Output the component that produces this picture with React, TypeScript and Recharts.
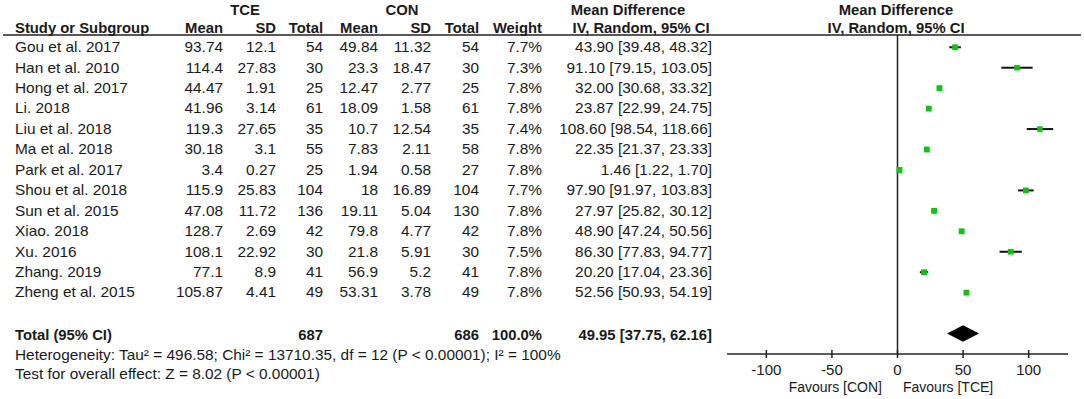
import React from 'react';
import {
  ErrorBar,
  ReferenceArea,
  ReferenceLine,
  Scatter,
  ScatterChart,
  XAxis,
  YAxis,
} from 'recharts';

const studies = [
  'Gou et al. 2017',
  'Han et al. 2010',
  'Hong et al. 2017',
  'Li. 2018',
  'Liu et al. 2018',
  'Ma et al. 2018',
  'Park et al. 2017',
  'Shou et al. 2018',
  'Sun et al. 2015',
  'Xiao. 2018',
  'Xu. 2016',
  'Zhang. 2019',
  'Zheng et al. 2015',
];
const tceMean = [93.74, 114.4, 44.47, 41.96, 119.3, 30.18, 3.4, 115.9, 47.08, 128.7, 108.1, 77.1, 105.87];
const tceSd = [12.1, 27.83, 1.91, 3.14, 27.65, 3.1, 0.27, 25.83, 11.72, 2.69, 22.92, 8.9, 4.41];
const tceN = [54, 30, 25, 61, 35, 55, 25, 104, 136, 42, 30, 41, 49];
const conMean = [49.84, 23.3, 12.47, 18.09, 10.7, 7.83, 1.94, 18, 19.11, 79.8, 21.8, 56.9, 53.31];
const conSd = [11.32, 18.47, 2.77, 1.58, 12.54, 2.11, 0.58, 16.89, 5.04, 4.77, 5.91, 5.2, 3.78];
const conN = [54, 30, 25, 61, 35, 58, 27, 104, 130, 42, 30, 41, 49];
const weights = [7.7, 7.3, 7.8, 7.8, 7.4, 7.8, 7.8, 7.7, 7.8, 7.8, 7.5, 7.8, 7.8];
const md = [43.9, 91.1, 32.0, 23.87, 108.6, 22.35, 1.46, 97.9, 27.97, 48.9, 86.3, 20.2, 52.56];
const ciLow = [39.48, 79.15, 30.68, 22.99, 98.54, 21.37, 1.22, 91.97, 25.82, 47.24, 77.83, 17.04, 50.93];
const ciHigh = [48.32, 103.05, 33.32, 24.75, 118.66, 23.33, 1.7, 103.83, 30.12, 50.56, 94.77, 23.36, 54.19];

const totalTceN = 687;
const totalConN = 686;
const totalWeight = 100.0;
const totalMd = 49.95;
const totalLow = 37.75;
const totalHigh = 62.16;

const axisTicks = [-100, -50, 0, 50, 100];

const points = studies.map((name, i) => ({
  name,
  x: md[i],
  y: i,
  w: weights[i],
  err: [md[i] - ciLow[i], ciHigh[i] - md[i]],
}));

const TOTAL_ROW = 14;
const FONT = '"Liberation Sans", Arial, sans-serif';
const INK = '#1a1a1a';
const ROW0 = 47.3;
const ROW_H = 20.45;

function T({
  x,
  y,
  anchor = 'start',
  bold = false,
  children,
}: {
  x: number;
  y: number;
  anchor?: 'start' | 'middle' | 'end';
  bold?: boolean;
  children: React.ReactNode;
}) {
  return (
    <text
      transform={`translate(${x},${y}) scale(${bold ? 1.06 : 1.1},1)`}
      textAnchor={anchor}
      dominantBaseline="central"
      fontSize={14}
      fontWeight={bold ? 'bold' : 'normal'}
      fontFamily={FONT}
      fill={INK}
    >
      {children}
    </text>
  );
}

function AxisTick(props: any) {
  const { x, y, payload } = props;
  return (
    <g>
      <line x1={x} x2={x} y1={y - 4} y2={y + 4} stroke="#222" strokeWidth={1.5} />
      <text
        x={x}
        y={y + 15}
        textAnchor="middle"
        dominantBaseline="central"
        fontSize={15}
        fontFamily={FONT}
        fill={INK}
      >
        {payload.value}
      </text>
    </g>
  );
}

function Square(props: any) {
  const { cx, cy, payload } = props;
  const s = payload.w * 0.75;
  return <rect x={cx - s / 2} y={cy - s / 2} width={s} height={s} fill="#0fc40f" />;
}

function Diamond(props: any) {
  const { x, y, width, height } = props;
  const mx = x + width / 2;
  const my = y + height / 2;
  return (
    <polygon
      points={`${x},${my} ${mx},${y} ${x + width},${my} ${mx},${y + height}`}
      fill="#000"
    />
  );
}

const cols = [
  { right: 223, head: 'Mean', vals: tceMean.map(String) },
  { right: 276, head: 'SD', vals: tceSd.map(String) },
  { right: 323, head: 'Total', vals: tceN.map(String) },
  { right: 378, head: 'Mean', vals: conMean.map(String) },
  { right: 431, head: 'SD', vals: conSd.map(String) },
  { right: 479, head: 'Total', vals: conN.map(String) },
  { right: 542, head: 'Weight', vals: weights.map((w) => `${w.toFixed(1)}%`) },
  {
    right: 712,
    head: '',
    vals: md.map((m, i) => `${m.toFixed(2)} [${ciLow[i].toFixed(2)}, ${ciHigh[i].toFixed(2)}]`),
  },
];

export default function App() {
  const totalY = ROW0 + TOTAL_ROW * ROW_H + 1.5;
  return (
    <div style={{ position: 'absolute', left: 0, top: 0, width: 1084, height: 399, background: '#fff' }}>
      <ScatterChart width={1084} height={399} margin={{ top: 35, right: 16, bottom: 15, left: 727 }}>
        <XAxis
          type="number"
          dataKey="x"
          domain={[-130, 130]}
          ticks={axisTicks}
          interval={0}
          allowDataOverflow
          height={30}
          tickLine={false}
          tickSize={0}
          tickMargin={0}
          axisLine={{ stroke: '#222', strokeWidth: 1.5 }}
          tick={<AxisTick />}
        />
        <YAxis type="number" dataKey="y" domain={[-0.6, 15]} reversed hide width={0} allowDataOverflow />
        <ReferenceLine x={0} stroke="#222" strokeWidth={1.5} />
        <Scatter data={points} shape={<Square />} isAnimationActive={false}>
          <ErrorBar dataKey="err" direction="x" width={0} stroke="#111" strokeWidth={2} isAnimationActive={false} />
        </Scatter>
        <ReferenceArea
          x1={totalLow}
          x2={totalHigh}
          y1={TOTAL_ROW - 0.4}
          y2={TOTAL_ROW + 0.4}
          shape={<Diamond />}
        />
      </ScatterChart>

      <svg width={1084} height={399} style={{ position: 'absolute', left: 0, top: 0, pointerEvents: 'none' }}>
        <line x1={3} x2={1081} y1={35} y2={35} stroke="#222" strokeWidth={1.5} />

        <T x={245} y={10} anchor="middle" bold>TCE</T>
        <T x={402} y={10} anchor="middle" bold>CON</T>
        <T x={628} y={10} anchor="middle" bold>Mean Difference</T>
        <T x={896} y={10} anchor="middle" bold>Mean Difference</T>
        <T x={15} y={28} bold>Study or Subgroup</T>
        {cols.map((c, k) =>
          c.head ? (
            <T key={`h${k}`} x={c.right} y={28} anchor="end" bold>
              {c.head}
            </T>
          ) : null,
        )}
        <T x={641} y={28} anchor="middle" bold>IV, Random, 95% CI</T>
        <T x={896} y={28} anchor="middle" bold>IV, Random, 95% CI</T>

        {studies.map((s, i) => (
          <g key={s}>
            <T x={15} y={ROW0 + i * ROW_H}>{s}</T>
            {cols.map((c, k) => (
              <T key={k} x={c.right} y={ROW0 + i * ROW_H} anchor="end">
                {c.vals[i]}
              </T>
            ))}
          </g>
        ))}

        <T x={15} y={totalY} bold>Total (95% CI)</T>
        <T x={323} y={totalY} anchor="end" bold>{totalTceN}</T>
        <T x={479} y={totalY} anchor="end" bold>{totalConN}</T>
        <T x={542} y={totalY} anchor="end" bold>{`${totalWeight.toFixed(1)}%`}</T>
        <T x={712} y={totalY} anchor="end" bold>
          {`${totalMd.toFixed(2)} [${totalLow.toFixed(2)}, ${totalHigh.toFixed(2)}]`}
        </T>
        <T x={15} y={355.5}>Heterogeneity: Tau² = 496.58; Chi² = 13710.35, df = 12 (P &lt; 0.00001); I² = 100%</T>
        <T x={15} y={374.5}>Test for overall effect: Z = 8.02 (P &lt; 0.00001)</T>

        <text x={882} y={387} textAnchor="end" dominantBaseline="central" fontSize={14} fontFamily={FONT} fill={INK}>
          Favours [CON]
        </text>
        <text x={903} y={387} textAnchor="start" dominantBaseline="central" fontSize={14} fontFamily={FONT} fill={INK}>
          Favours [TCE]
        </text>
      </svg>
    </div>
  );
}
